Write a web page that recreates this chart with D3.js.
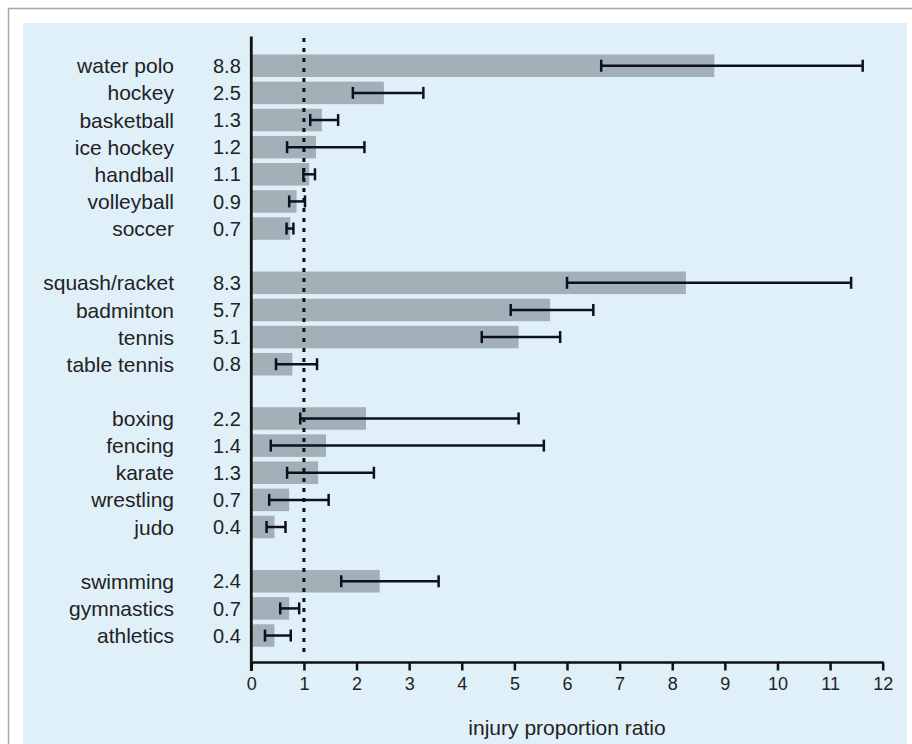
<!DOCTYPE html>
<html>
<head lang="en">
    <meta charset="UTF-8">
    <title>injury proportion ratio</title>
    <script src="https://cdn.jsdelivr.net/npm/d3@7"></script>
    <style>
        body{margin:0;background:#fff;}
        text{font-family:'Liberation Sans',Arial,sans-serif;fill:#222;}
    </style>
</head>
<body>
<div id="tu1"></div>
</body>
</html>
<script>

    var sports=['water polo','hockey','basketball','ice hockey','handball','volleyball','soccer',
        'squash/racket','badminton','tennis','table tennis',
        'boxing','fencing','karate','wrestling','judo',
        'swimming','gymnastics','athletics'];
    var groupSizes=[7,4,5,3];
    var ratio=[8.8,2.52,1.34,1.23,1.1,0.86,0.74,
        8.26,5.68,5.08,0.78,
        2.18,1.42,1.27,0.72,0.44,
        2.44,0.72,0.44];
    var ciLow=[6.65,1.93,1.12,0.68,0.99,0.72,0.67,
        6.0,4.93,4.38,0.47,
        0.93,0.37,0.68,0.34,0.29,
        1.71,0.55,0.26];
    var ciHigh=[11.62,3.27,1.65,2.15,1.21,1.02,0.8,
        11.4,6.5,5.87,1.25,
        5.08,5.56,2.33,1.47,0.65,
        3.56,0.91,0.75];
    var xTicks=[0,1,2,3,4,5,6,7,8,9,10,11,12];
    var refLine=1;

    function drawForest(divname){
        var svgwidth=912,svgheight=744;
        // slots: sports with one empty slot between groups
        var slots=[],k=0;
        groupSizes.forEach(function(n,g){
            if(g>0) slots.push('gap'+g);
            for(var i=0;i<n;i++){slots.push(sports[k++]);}
        });
        var data=sports.map(function(s,i){
            return {name:s,ratio:ratio[i],lo:ciLow[i],hi:ciHigh[i]}
        });

        var _x=d3.scaleLinear().domain([0,12]).range([251.3,882.7]);
        var _y=d3.scaleBand().domain(slots).range([52.2,649.1])
                .paddingInner(0.17).paddingOuter(0.085);

        var _svg=d3.select('#'+divname)
                .append('svg')
                .attr('width',svgwidth)
                .attr('height',svgheight);

        _svg.append('rect')
                .attr('x',8.5).attr('y',8.5)
                .attr('width',940).attr('height',780)
                .style('fill','#fff')
                .style('stroke','#a6a6a6')
                .style('stroke-width',1.5);
        _svg.append('rect')
                .attr('x',23).attr('y',23)
                .attr('width',884).attr('height',760)
                .style('fill','#e0f0f9');

        var _row=_svg.selectAll('g.row')
                .data(data)
                .enter()
                .append('g')
                .attr('class','row')
                .attr('transform',function(d){
                    return 'translate(0,'+_y(d.name)+')'
                });
        _row.append('rect')
                .attr('x',_x(0))
                .attr('y',0)
                .attr('width',function(d){return _x(d.ratio)-_x(0)})
                .attr('height',_y.bandwidth())
                .style('fill','#a2b0b7');
        _row.append('text')
                .attr('x',174)
                .attr('y',_y.bandwidth()/2)
                .attr('dy','0.36em')
                .attr('text-anchor','end')
                .style('font-size','21px')
                .text(function(d){return d.name});
        _row.append('text')
                .attr('x',213)
                .attr('y',_y.bandwidth()/2)
                .attr('dy','0.36em')
                .style('font-size','20px')
                .text(function(d){return d3.format('.1f')(d.ratio)});

        // reference line at ratio 1
        _svg.append('line')
                .attr('x1',_x(refLine)).attr('x2',_x(refLine))
                .attr('y1',38).attr('y2',652)
                .style('stroke','#111')
                .style('stroke-width',3)
                .style('stroke-dasharray','4,6');

        var half=6;
        var _err=_row.append('g').style('stroke','#0d1020').style('stroke-width',2.5);
        _err.append('line')
                .attr('x1',function(d){return _x(d.lo)})
                .attr('x2',function(d){return _x(d.hi)})
                .attr('y1',_y.bandwidth()/2).attr('y2',_y.bandwidth()/2);
        _err.append('line')
                .attr('x1',function(d){return _x(d.lo)})
                .attr('x2',function(d){return _x(d.lo)})
                .attr('y1',_y.bandwidth()/2-half).attr('y2',_y.bandwidth()/2+half);
        _err.append('line')
                .attr('x1',function(d){return _x(d.hi)})
                .attr('x2',function(d){return _x(d.hi)})
                .attr('y1',_y.bandwidth()/2-half).attr('y2',_y.bandwidth()/2+half);

        // axes
        var _xAxis=d3.axisBottom(_x).tickValues(xTicks).tickSize(8).tickPadding(7)
                .tickFormat(d3.format('d'));
        var _gx=_svg.append('g')
                .attr('transform','translate(0,662.5)')
                .call(_xAxis);
        _gx.select('.domain').remove();
        _gx.append('line')
                .attr('x1',_x(0)-1.3).attr('x2',_x(12)+1)
                .attr('y1',0).attr('y2',0)
                .style('stroke','#111').style('stroke-width',2.6);
        _gx.selectAll('.tick line').style('stroke','#111').style('stroke-width',2.5);
        _gx.selectAll('.tick text')
                .style('font-size','18px')
                .style('font-family','Liberation Sans, Arial, sans-serif')
                .style('fill','#222');

        _svg.append('line')
                .attr('x1',_x(0)).attr('x2',_x(0))
                .attr('y1',36.5).attr('y2',671)
                .style('stroke','#111').style('stroke-width',2.8);

        _svg.append('text')
                .attr('x',_x(6))
                .attr('y',735)
                .attr('text-anchor','middle')
                .style('font-size','21px')
                .text('injury proportion ratio');
    }
    drawForest('tu1');
</script>
